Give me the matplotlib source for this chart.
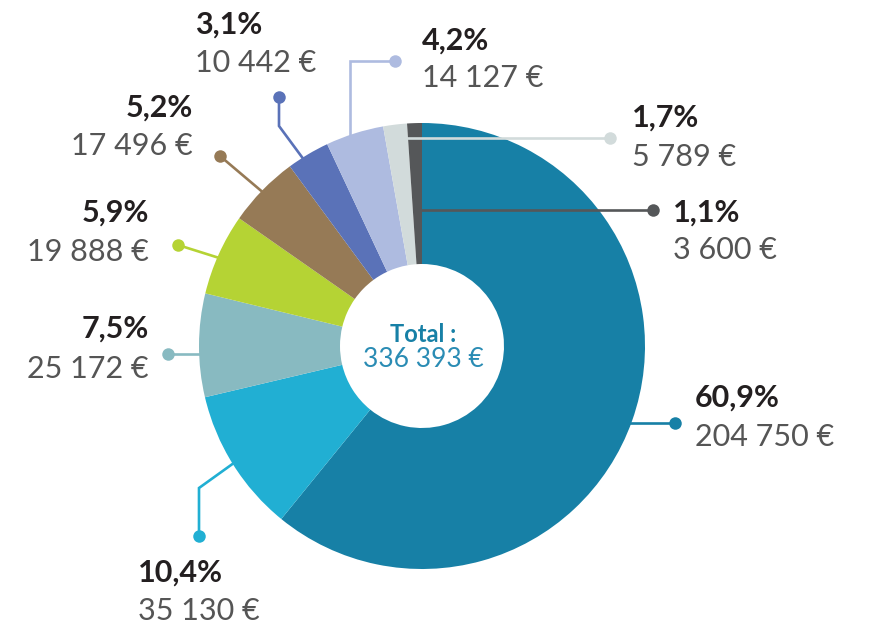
import matplotlib
matplotlib.use("Agg")
import matplotlib.pyplot as plt

# ---- data ----
percent_labels = ["60,9%", "10,4%", "7,5%", "5,9%", "5,2%", "3,1%", "4,2%", "1,7%", "1,1%"]
amount_labels = ["204 750 €", "35 130 €", "25 172 €", "19 888 €", "17 496 €",
                 "10 442 €", "14 127 €", "5 789 €", "3 600 €"]
values = [204750, 35130, 25172, 19888, 17496, 10442, 14127, 5789, 3600]
colors = ["#1780a6", "#21afd3", "#88bac1", "#b5d334", "#967a56",
          "#5a72b8", "#aebbe0", "#d2dbdb", "#555759"]
total_title = "Total :"
total_value = "336 393 €"

# ---- layout (pixel coords, y down) ----
W, H = 871, 628
center = (422, 346)
r_out = 223
r_in = 82

# leader polylines (from slice to dot)
leaders = [
    [(600, 423), (675, 423)],
    [(245, 455), (199, 488), (199, 536)],
    [(215, 354), (168, 354)],
    [(232, 262), (178, 245)],
    [(272, 200), (220, 156)],
    [(310, 168), (279, 126), (279, 97)],
    [(350, 145), (350, 61), (395, 61)],
    [(400, 138), (610, 138)],
    [(414, 210), (653, 210)],
]
# label anchor: (x, baseline of pct, baseline of amount, ha)
label_pos = [
    (695, 407, 446, "left"),
    (138, 582, 620, "left"),
    (149, 338, 378, "right"),
    (149, 222, 261, "right"),
    (193, 117, 155, "right"),
    (195, 34, 72, "left"),
    (422, 50, 87, "left"),
    (632, 127, 166, "left"),
    (673, 222, 259, "left"),
]

plt.rcParams['font.family'] = ['Lato', 'DejaVu Sans']

fig = plt.figure(figsize=(W / 100, H / 100), dpi=100)
ax = fig.add_axes([0, 0, 1, 1])

ax.pie(values, colors=colors, startangle=270, counterclock=True,
       center=center, radius=r_out, frame=False,
       wedgeprops=dict(width=r_out - r_in, linewidth=0, antialiased=True))
ax.set_xlim(0, W)
ax.set_ylim(H, 0)
ax.set_aspect('equal')
ax.axis('off')

for pts, col in zip(leaders, colors):
    xs = [p[0] for p in pts]
    ys = [p[1] for p in pts]
    ax.plot(xs, ys, color=col, lw=1.9, solid_capstyle='butt', solid_joinstyle='miter', zorder=5)
    ax.plot(xs[-1], ys[-1], 'o', color=col, ms=9, mew=0, zorder=6)

for (x, yb1, yb2, ha), p, a in zip(label_pos, percent_labels, amount_labels):
    ax.text(x, yb1, p, ha=ha, va='baseline', fontsize=22, fontweight='bold',
            color='#231f20', zorder=7)
    ax.text(x, yb2, a, ha=ha, va='baseline', fontsize=22, fontweight='normal',
            color='#555555', zorder=7)

ax.text(center[0] + 1, 342, total_title, ha='center', va='baseline', fontsize=17,
        fontweight='bold', color='#1780a6')
ax.text(center[0] + 1, 367, total_value, ha='center', va='baseline', fontsize=19,
        fontweight='normal', color='#2a8cb4')

fig.savefig("out.png", dpi=100)
